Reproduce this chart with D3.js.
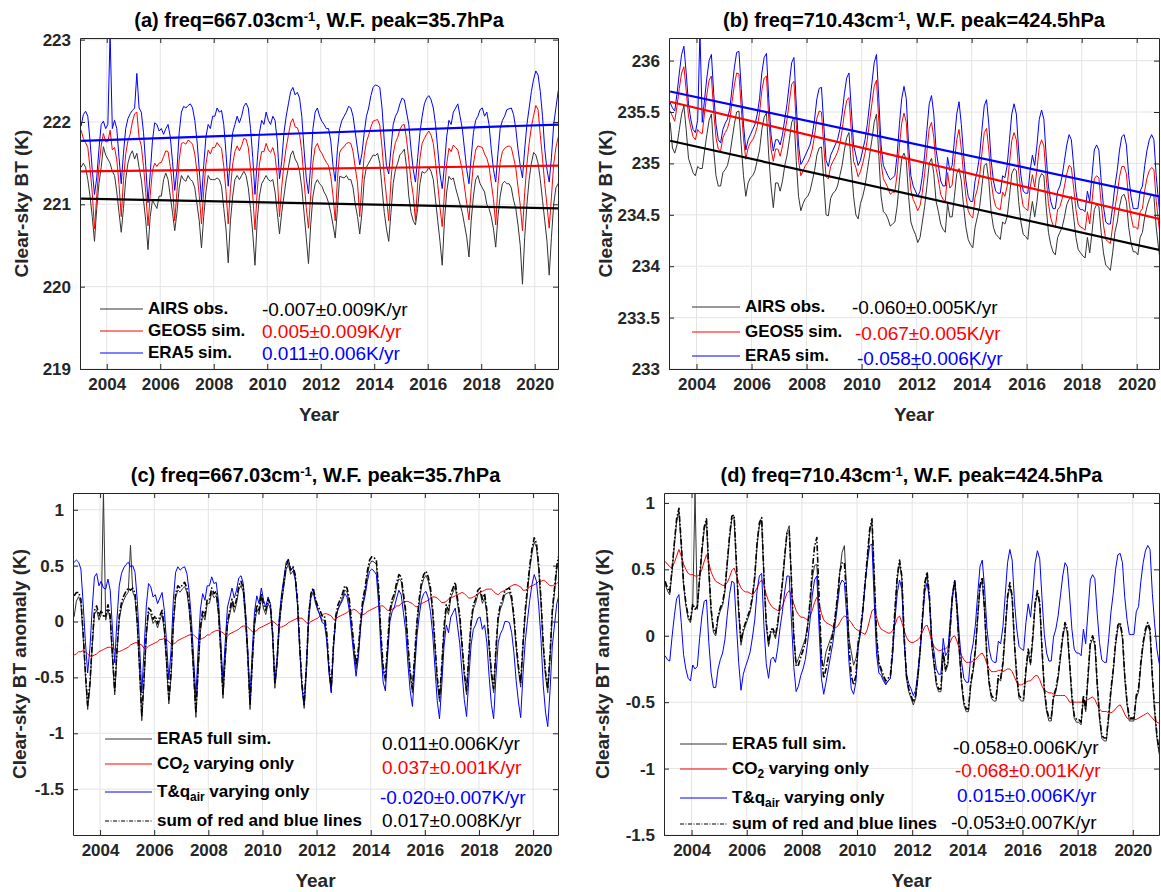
<!DOCTYPE html>
<html>
<head>
<meta charset="utf-8">
<title>Clear-sky BT</title>
<script src="https://cdnjs.cloudflare.com/ajax/libs/d3/7.8.5/d3.min.js"></script>
<style>
  body { margin: 0; background: #ffffff; }
  svg { font-family: "Liberation Sans", Arial, Helvetica, sans-serif; }
</style>
</head>
<body>
<svg id="chart" width="1161" height="892"></svg>
<script>
// Monthly values, Jan 2003 - Dec 2020, one row per year

var airs667 = [
  221.45,221.50,221.45,221.30,221.10,220.85,220.55,220.95,221.25,221.45,221.70,221.60,
  221.55,221.50,221.40,221.35,221.15,220.90,220.66,220.95,221.30,221.50,221.60,221.65,
  221.55,221.62,221.45,221.30,221.05,220.80,220.45,220.85,221.05,221.00,220.95,221.10,
  221.10,221.30,221.38,221.30,221.10,220.90,220.68,220.90,221.20,221.35,221.30,221.28,
  221.35,221.30,221.28,221.20,221.00,220.80,220.47,220.85,221.15,221.35,221.30,221.30,
  221.30,221.32,221.30,221.22,220.95,220.70,220.29,220.80,221.10,221.30,221.35,221.30,
  221.35,221.40,221.35,221.20,220.95,220.65,220.26,220.80,221.10,221.25,221.30,221.35,
  221.30,221.28,221.30,221.15,220.90,220.64,220.90,221.10,221.30,221.45,221.60,221.65,
  221.55,221.50,221.40,221.20,220.90,220.60,220.28,220.75,221.10,221.25,221.30,221.25,
  221.22,221.15,221.10,221.02,220.90,220.75,220.59,220.95,221.34,221.33,221.32,221.35,
  221.30,221.30,221.20,221.00,220.85,220.64,220.90,221.30,221.45,221.50,221.55,221.60,
  221.59,221.62,221.50,221.20,220.90,220.70,220.55,220.90,221.25,221.42,221.50,221.60,
  221.63,221.67,221.45,221.10,220.90,220.80,220.75,220.95,221.25,221.40,221.38,221.40,
  221.45,221.40,221.30,221.05,220.80,220.55,220.26,220.80,221.15,221.34,221.30,221.32,
  221.20,221.10,221.00,220.90,220.75,220.60,220.36,220.80,221.10,221.30,221.35,221.25,
  221.20,221.15,221.00,220.95,220.85,220.70,220.48,220.85,221.10,221.25,221.28,221.25,
  221.25,221.20,221.05,220.95,220.75,220.50,220.03,220.60,221.00,221.30,221.50,221.63,
  221.60,221.50,221.30,221.05,220.80,220.55,220.14,220.60,221.00,221.20,221.25,221.30
];

var geos667 = [
  221.90,221.80,221.75,221.69,221.44,221.14,220.70,221.10,221.46,221.71,221.86,221.76,
  221.76,221.90,221.66,221.69,221.54,221.24,220.85,221.29,221.61,221.77,221.85,222.00,
  222.10,222.12,221.81,221.71,221.46,221.14,220.74,221.11,221.41,221.50,221.46,221.50,
  221.51,221.58,221.65,221.64,221.46,221.21,220.80,221.16,221.54,221.74,221.75,221.73,
  221.78,221.76,221.73,221.61,221.39,221.11,220.76,221.16,221.49,221.66,221.61,221.69,
  221.69,221.75,221.71,221.68,221.46,221.16,220.76,221.19,221.49,221.64,221.71,221.65,
  221.71,221.80,221.79,221.69,221.44,221.11,220.69,221.16,221.49,221.64,221.64,221.74,
  221.66,221.63,221.69,221.59,221.34,220.85,221.21,221.49,221.69,221.84,221.99,222.04,
  221.94,221.93,221.85,221.64,221.29,220.96,220.71,221.11,221.51,221.69,221.74,221.66,
  221.62,221.56,221.51,221.47,221.34,221.11,220.80,221.31,221.63,221.68,221.70,221.74,
  221.75,221.74,221.64,221.44,221.26,220.85,221.26,221.59,221.76,221.84,221.94,222.01,
  222.02,222.03,221.96,221.69,221.34,221.09,220.80,221.29,221.61,221.75,221.81,221.91,
  221.96,221.97,221.79,221.54,221.29,221.11,220.80,221.26,221.56,221.74,221.80,221.85,
  221.89,221.84,221.74,221.51,221.24,220.96,220.73,221.14,221.49,221.68,221.64,221.72,
  221.69,221.66,221.54,221.41,221.21,221.01,220.81,221.19,221.49,221.66,221.71,221.70,
  221.69,221.61,221.56,221.46,221.26,221.06,220.75,221.24,221.51,221.64,221.68,221.70,
  221.71,221.69,221.57,221.44,221.21,220.99,220.68,221.14,221.49,221.74,221.94,222.08,
  222.20,222.15,221.84,221.56,221.24,220.99,220.71,221.09,221.49,221.69,221.81,221.89
];

var era667 = [
  221.95,222.09,222.13,222.07,221.77,221.42,221.12,221.32,221.67,221.97,222.01,221.92,
  221.97,223.07,221.92,222.02,221.92,221.57,221.25,221.62,221.92,222.04,222.10,222.14,
  222.17,222.59,222.17,222.12,221.87,221.47,221.02,221.37,221.77,221.99,221.97,221.89,
  221.92,221.85,221.92,221.97,221.82,221.52,221.17,221.42,221.87,222.12,222.19,222.17,
  222.20,222.22,222.17,222.02,221.77,221.42,221.05,221.47,221.82,221.97,221.92,222.07,
  222.07,222.17,222.12,222.14,221.97,221.62,221.22,221.57,221.87,221.97,222.07,221.99,
  222.07,222.19,222.23,222.17,221.92,221.57,221.12,221.52,221.87,222.02,221.97,222.12,
  222.02,221.97,222.07,222.02,221.77,221.31,221.52,221.87,222.07,222.22,222.37,222.42,
  222.33,222.36,222.29,222.07,221.67,221.32,221.13,221.47,221.92,222.12,222.17,222.07,
  222.01,221.97,221.92,221.92,221.77,221.47,221.28,221.67,221.92,222.02,222.07,222.12,
  222.19,222.17,222.07,221.87,221.67,221.48,221.62,221.87,222.07,222.17,222.32,222.42,
  222.45,222.44,222.42,222.17,221.77,221.47,221.37,221.67,221.97,222.07,222.12,222.22,
  222.29,222.27,222.12,221.97,221.67,221.42,221.27,221.57,221.87,222.07,222.22,222.29,
  222.32,222.27,222.17,221.97,221.67,221.37,221.19,221.47,221.82,222.02,221.97,222.12,
  222.17,222.22,222.07,221.92,221.67,221.42,221.25,221.57,221.87,222.02,222.07,222.15,
  222.17,222.07,222.12,221.97,221.67,221.42,221.27,221.62,221.92,222.02,222.07,222.15,
  222.16,222.17,222.09,221.92,221.67,221.47,221.32,221.67,221.97,222.17,222.37,222.52,
  222.62,222.57,222.37,222.07,221.67,221.42,221.27,221.57,221.97,222.17,222.37,222.47
];

var airs710 = [
  235.40,235.15,235.10,235.18,235.33,235.48,235.56,235.33,235.05,234.98,234.91,234.88,
  234.97,234.95,234.95,235.12,235.28,235.42,235.48,235.13,234.88,234.78,234.78,234.91,
  234.94,234.98,235.08,235.23,235.38,235.50,235.51,235.18,234.88,234.68,234.81,234.86,
  234.88,234.93,235.03,235.13,235.33,235.45,235.49,235.08,234.78,234.57,234.81,234.81,
  234.73,234.83,234.98,235.08,235.23,235.40,235.45,235.03,234.68,234.54,234.61,234.66,
  234.68,234.73,234.83,234.93,235.08,235.15,235.16,234.83,234.50,234.49,234.66,234.71,
  234.73,234.78,234.88,234.98,235.13,235.25,235.30,234.98,234.68,234.50,234.46,234.61,
  234.68,234.78,234.93,235.08,235.23,235.40,235.48,235.08,234.68,234.53,234.51,234.46,
  234.39,234.41,234.43,234.58,234.83,235.05,235.10,235.03,234.68,234.43,234.36,234.31,
  234.23,234.28,234.43,234.58,234.78,235.00,235.05,234.90,234.63,234.53,234.41,234.36,
  234.33,234.61,234.48,234.48,234.68,234.90,234.95,234.83,234.58,234.38,234.26,234.21,
  234.18,234.38,234.48,234.58,234.78,234.98,235.00,234.83,234.53,234.38,234.31,234.29,
  234.26,234.43,234.41,234.48,234.68,234.90,234.95,234.93,234.63,234.43,234.31,234.29,
  234.26,234.48,234.63,234.48,234.63,234.85,234.90,234.88,234.58,234.33,234.21,234.14,
  234.11,234.28,234.33,234.38,234.48,234.60,234.65,234.68,234.48,234.28,234.16,234.13,
  234.10,234.08,234.28,234.13,234.33,234.55,234.60,234.58,234.33,234.13,234.01,233.99,
  233.96,234.13,234.33,234.43,234.58,234.68,234.70,234.63,234.38,234.23,234.14,234.14,
  234.11,234.28,234.33,234.48,234.58,234.65,234.70,234.68,234.38,234.18,234.01,233.89
];

var geos710 = [
  235.51,235.46,235.41,235.56,235.73,235.88,235.94,235.71,235.46,235.35,235.26,235.23,
  235.33,235.30,235.29,235.49,235.67,235.81,235.85,235.50,235.25,235.14,235.12,235.25,
  235.30,235.34,235.42,235.60,235.76,235.88,235.87,235.54,235.24,235.04,235.15,235.20,
  235.23,235.28,235.36,235.49,235.71,235.83,235.85,235.44,235.14,235.02,235.14,235.14,
  235.07,235.17,235.30,235.43,235.60,235.77,235.80,235.38,235.03,234.88,234.93,234.98,
  235.01,235.06,235.14,235.27,235.44,235.51,235.50,235.17,234.87,234.85,234.97,235.02,
  235.06,235.11,235.19,235.32,235.49,235.61,235.64,235.32,235.02,234.96,234.87,234.92,
  235.00,235.10,235.23,235.41,235.58,235.75,235.81,235.41,235.01,234.85,234.81,234.76,
  234.70,234.72,234.72,234.90,235.17,235.39,235.49,235.40,235.00,234.74,234.65,234.60,
  234.54,234.59,234.72,234.90,235.12,235.34,235.40,235.25,234.95,234.84,234.70,234.65,
  234.63,234.91,234.76,234.79,235.01,235.23,235.33,235.14,234.89,234.68,234.54,234.49,
  234.47,234.67,234.75,234.88,235.10,235.30,235.34,235.13,234.83,234.67,234.58,234.56,
  234.55,234.72,234.68,234.78,235.00,235.22,235.30,235.23,234.93,234.72,234.58,234.56,
  234.54,234.76,234.89,234.77,234.94,235.16,235.23,235.17,234.87,234.61,234.47,234.40,
  234.38,234.55,234.58,234.66,234.78,234.90,234.98,234.96,234.76,234.55,234.41,234.38,
  234.37,234.35,234.53,234.41,234.63,234.85,234.88,234.86,234.61,234.40,234.26,234.24,
  234.22,234.39,234.57,234.70,234.87,234.97,234.97,234.90,234.65,234.49,234.38,234.38,
  234.36,234.53,234.56,234.74,234.86,234.93,234.96,234.94,234.64,234.43,234.24,234.12
];

var era710 = [
  235.59,235.54,235.51,235.68,235.88,236.06,236.14,235.88,235.58,235.43,235.33,235.30,
  235.42,236.28,235.40,235.62,235.83,236.00,236.06,235.68,235.38,235.23,235.20,235.33,
  235.39,235.43,235.53,235.73,235.93,236.08,236.09,235.73,235.38,235.13,235.23,235.28,
  235.33,235.38,235.48,235.63,235.88,236.03,236.07,235.63,235.28,235.12,235.23,235.23,
  235.18,235.28,235.43,235.58,235.78,235.98,236.03,235.58,235.18,234.99,235.03,235.08,
  235.13,235.18,235.28,235.43,235.63,235.73,235.74,235.38,235.03,234.97,235.08,235.13,
  235.18,235.23,235.33,235.48,235.68,235.83,235.88,235.53,235.18,235.08,234.98,235.03,
  235.13,235.23,235.38,235.58,235.78,235.98,236.06,235.63,235.18,234.98,234.93,234.88,
  234.84,234.86,234.88,235.08,235.38,235.63,235.75,235.63,235.18,234.88,234.78,234.73,
  234.68,234.73,234.88,235.08,235.33,235.58,235.66,235.48,235.13,234.98,234.83,234.78,
  234.78,235.06,234.93,234.98,235.23,235.48,235.60,235.38,235.08,234.83,234.68,234.63,
  234.63,234.83,234.93,235.08,235.33,235.56,235.62,235.38,235.03,234.83,234.73,234.71,
  234.71,234.88,234.86,234.98,235.23,235.48,235.58,235.48,235.13,234.88,234.73,234.71,
  234.71,234.93,235.08,234.98,235.18,235.43,235.52,235.43,235.08,234.78,234.63,234.56,
  234.56,234.73,234.78,234.88,235.03,235.18,235.28,235.23,234.98,234.73,234.58,234.55,
  234.55,234.53,234.73,234.63,234.88,235.13,235.18,235.13,234.83,234.58,234.43,234.41,
  234.41,234.58,234.78,234.93,235.13,235.26,235.28,235.18,234.88,234.68,234.56,234.56,
  234.56,234.73,234.78,234.98,235.13,235.23,235.28,235.23,234.88,234.63,234.43,234.31
];

var co2Only667 = [
  -0.30,-0.29,-0.27,-0.27,-0.26,-0.27,-0.29,-0.31,-0.31,-0.30,-0.29,-0.27,
  -0.26,-0.25,-0.24,-0.23,-0.23,-0.23,-0.25,-0.27,-0.27,-0.26,-0.25,-0.24,
  -0.23,-0.21,-0.20,-0.19,-0.19,-0.20,-0.21,-0.24,-0.24,-0.22,-0.21,-0.20,
  -0.19,-0.18,-0.16,-0.16,-0.15,-0.16,-0.18,-0.20,-0.20,-0.19,-0.17,-0.16,
  -0.15,-0.14,-0.13,-0.12,-0.12,-0.12,-0.14,-0.16,-0.16,-0.15,-0.14,-0.12,
  -0.12,-0.10,-0.09,-0.08,-0.08,-0.09,-0.10,-0.12,-0.13,-0.11,-0.10,-0.09,
  -0.08,-0.07,-0.05,-0.04,-0.04,-0.05,-0.07,-0.09,-0.09,-0.08,-0.06,-0.05,
  -0.04,-0.03,-0.02,-0.01,0.00,-0.01,-0.03,-0.05,-0.05,-0.04,-0.03,-0.01,
  0.00,0.01,0.02,0.03,0.03,0.03,0.01,-0.01,-0.02,0.00,0.01,0.02,
  0.03,0.05,0.06,0.07,0.07,0.06,0.05,0.02,0.02,0.04,0.05,0.06,
  0.07,0.08,0.10,0.10,0.11,0.10,0.08,0.06,0.06,0.07,0.09,0.10,
  0.11,0.12,0.13,0.14,0.14,0.14,0.12,0.10,0.10,0.11,0.12,0.14,
  0.14,0.16,0.17,0.18,0.18,0.17,0.16,0.14,0.13,0.15,0.16,0.17,
  0.18,0.19,0.21,0.22,0.22,0.21,0.19,0.17,0.17,0.18,0.20,0.21,
  0.22,0.23,0.24,0.25,0.26,0.25,0.23,0.21,0.21,0.22,0.23,0.25,
  0.26,0.27,0.28,0.29,0.29,0.29,0.27,0.25,0.24,0.26,0.27,0.28,
  0.29,0.31,0.32,0.33,0.33,0.32,0.31,0.28,0.28,0.29,0.31,0.32,
  0.33,0.34,0.36,0.36,0.37,0.36,0.34,0.32,0.32,0.33,0.34,0.36
];

var tqOnly667 = [
  0.53,0.55,0.53,0.47,0.16,-0.18,-0.46,-0.24,0.11,0.40,0.43,0.32,
  0.36,0.30,0.29,0.38,0.28,-0.07,-0.37,0.02,0.32,0.43,0.48,0.51,
  0.53,0.49,0.50,0.44,0.19,-0.20,-0.64,-0.26,0.14,0.34,0.31,0.22,
  0.24,0.16,0.21,0.26,0.10,-0.19,-0.52,-0.25,0.20,0.44,0.49,0.46,
  0.48,0.49,0.43,0.27,0.02,-0.33,-0.68,-0.24,0.11,0.25,0.19,0.32,
  0.32,0.40,0.34,0.35,0.18,-0.16,-0.55,-0.18,0.13,0.21,0.30,0.21,
  0.28,0.39,0.41,0.34,0.09,-0.25,-0.68,-0.26,0.09,0.23,0.16,0.30,
  0.19,0.13,0.22,0.16,-0.10,-0.55,-0.32,0.05,0.25,0.39,0.53,0.56,
  0.46,0.48,0.40,0.17,-0.23,-0.58,-0.75,-0.39,0.07,0.25,0.29,0.18,
  0.11,0.05,-0.01,-0.02,-0.17,-0.46,-0.64,-0.22,0.03,0.11,0.15,0.19,
  0.25,0.22,0.10,-0.10,-0.31,-0.49,-0.33,-0.06,0.14,0.23,0.36,0.45,
  0.47,0.45,0.42,0.16,-0.24,-0.54,-0.62,-0.30,0.00,0.09,0.13,0.21,
  0.28,0.24,0.08,-0.08,-0.38,-0.62,-0.76,-0.44,-0.13,0.05,0.19,0.25,
  0.27,0.21,0.09,-0.12,-0.42,-0.71,-0.87,-0.57,-0.22,-0.03,-0.10,0.04,
  0.08,0.12,-0.04,-0.20,-0.46,-0.70,-0.85,-0.51,-0.21,-0.07,-0.03,0.03,
  0.04,-0.07,-0.03,-0.19,-0.49,-0.74,-0.87,-0.50,-0.19,-0.11,-0.07,0.00,
  0.00,-0.01,-0.10,-0.28,-0.53,-0.72,-0.86,-0.48,-0.18,0.01,0.19,0.33,
  0.42,0.36,0.14,-0.16,-0.57,-0.81,-0.94,-0.62,-0.22,-0.03,0.16,0.24
];

var co2Only710 = [
  0.56,0.54,0.52,0.51,0.55,0.60,0.65,0.60,0.54,0.50,0.47,0.46,
  0.46,0.45,0.45,0.46,0.50,0.56,0.61,0.55,0.48,0.44,0.41,0.40,
  0.39,0.38,0.38,0.40,0.44,0.49,0.51,0.46,0.40,0.36,0.34,0.33,
  0.33,0.32,0.31,0.33,0.36,0.40,0.42,0.38,0.31,0.26,0.23,0.21,
  0.20,0.19,0.19,0.22,0.27,0.32,0.34,0.30,0.24,0.19,0.16,0.14,
  0.14,0.13,0.12,0.14,0.19,0.25,0.29,0.24,0.17,0.12,0.10,0.09,
  0.08,0.07,0.06,0.07,0.10,0.13,0.15,0.14,0.12,0.10,0.07,0.05,
  0.04,0.03,0.02,0.01,0.05,0.12,0.19,0.20,0.14,0.08,0.05,0.04,
  0.03,0.02,0.02,0.04,0.08,0.13,0.15,0.10,0.04,-0.01,-0.04,-0.05,
  -0.05,-0.04,-0.03,-0.01,0.03,0.07,0.08,0.03,-0.04,-0.08,-0.10,-0.11,
  -0.11,-0.10,-0.10,-0.08,-0.05,-0.01,0.00,-0.04,-0.10,-0.15,-0.18,-0.20,
  -0.20,-0.20,-0.19,-0.18,-0.16,-0.14,-0.13,-0.16,-0.21,-0.25,-0.27,-0.27,
  -0.27,-0.26,-0.26,-0.27,-0.26,-0.25,-0.25,-0.27,-0.31,-0.35,-0.37,-0.37,
  -0.36,-0.35,-0.34,-0.34,-0.32,-0.30,-0.30,-0.33,-0.38,-0.41,-0.42,-0.43,
  -0.43,-0.44,-0.45,-0.45,-0.45,-0.45,-0.45,-0.47,-0.50,-0.50,-0.50,-0.50,
  -0.50,-0.50,-0.50,-0.49,-0.48,-0.47,-0.46,-0.48,-0.52,-0.55,-0.57,-0.57,
  -0.57,-0.58,-0.58,-0.57,-0.55,-0.53,-0.52,-0.55,-0.59,-0.62,-0.63,-0.63,
  -0.63,-0.63,-0.62,-0.61,-0.60,-0.59,-0.58,-0.60,-0.62,-0.64,-0.65,-0.66
];

var tqOnly710 = [
  -0.15,-0.18,-0.19,-0.01,0.15,0.28,0.31,0.10,-0.14,-0.25,-0.32,-0.34,
  -0.22,-0.25,-0.23,-0.02,0.15,0.26,0.27,-0.05,-0.28,-0.39,-0.39,-0.25,
  -0.18,-0.13,-0.03,0.15,0.31,0.41,0.40,0.09,-0.20,-0.41,-0.29,-0.23,
  -0.18,-0.12,-0.01,0.12,0.34,0.45,0.47,0.07,-0.21,-0.32,-0.18,-0.16,
  -0.20,-0.09,0.06,0.18,0.33,0.45,0.45,0.10,-0.24,-0.42,-0.38,-0.30,
  -0.25,-0.18,-0.05,0.11,0.30,0.42,0.45,0.05,-0.32,-0.44,-0.35,-0.25,
  -0.15,-0.05,0.09,0.23,0.38,0.42,0.40,0.15,-0.20,-0.40,-0.44,-0.35,
  -0.09,0.02,0.18,0.39,0.55,0.68,0.69,0.25,-0.14,-0.28,-0.30,-0.34,
  -0.37,-0.34,-0.32,-0.14,0.12,0.32,0.42,0.35,-0.04,-0.29,-0.36,-0.40,
  -0.45,-0.41,-0.27,-0.09,0.12,0.33,0.40,0.27,-0.01,-0.12,-0.25,-0.29,
  -0.29,-0.02,-0.15,-0.12,0.10,0.31,0.42,0.24,0.00,-0.20,-0.32,-0.35,
  -0.35,-0.15,-0.06,0.08,0.31,0.52,0.57,0.36,0.06,-0.10,-0.18,-0.20,
  -0.20,-0.04,-0.06,0.07,0.31,0.55,0.65,0.57,0.26,0.05,-0.08,-0.10,
  -0.11,0.10,0.24,0.14,0.32,0.55,0.64,0.58,0.28,0.01,-0.13,-0.19,
  -0.19,-0.01,0.05,0.15,0.30,0.45,0.55,0.52,0.30,0.05,-0.10,-0.13,
  -0.13,-0.15,0.05,-0.06,0.18,0.42,0.46,0.43,0.17,-0.05,-0.18,-0.20,
  -0.20,-0.02,0.18,0.32,0.50,0.61,0.62,0.55,0.29,0.12,0.01,0.01,
  0.01,0.18,0.22,0.41,0.55,0.64,0.68,0.65,0.32,0.09,-0.10,-0.21
];

// Linear trend lines: value at first and last month
var airs667Trend = [221.07, 220.95];
var geos667Trend = [221.40, 221.47];
var era667Trend = [221.77, 221.97];
var airs710Trend = [235.22, 234.15];
var geos710Trend = [235.60, 234.45];
var era710Trend = [235.70, 234.67];

// Tick values
var yearTicks = [2004, 2006, 2008, 2010, 2012, 2014, 2016, 2018, 2020];
var ticksA = [219, 220, 221, 222, 223];
var ticksB = [233, 233.5, 234, 234.5, 235, 235.5, 236];
var ticksAnom = [-1.5, -1, -0.5, 0, 0.5, 1];

// Trend texts
var trendTextA = ['-0.007\u00b10.009K/yr', '0.005\u00b10.009K/yr', '0.011\u00b10.006K/yr'];
var trendTextB = ['-0.060\u00b10.005K/yr', '-0.067\u00b10.005K/yr', '-0.058\u00b10.006K/yr'];
var trendTextC = ['0.011\u00b10.006K/yr', '0.037\u00b10.001K/yr', '-0.020\u00b10.007K/yr', '0.017\u00b10.008K/yr'];
var trendTextD = ['-0.058\u00b10.006K/yr', '-0.068\u00b10.001K/yr', '0.015\u00b10.006K/yr', '-0.053\u00b10.007K/yr'];

var svg = d3.select('#chart');
var axisColor = '#262626';

// time of each month (mid-month)
var months = d3.range(airs667.length).map(function (i) { return 2003 + (i + 0.5) / 12; });
var tFirst = months[0], tLast = months[months.length - 1];

function anomaly(arr) {           // anomaly relative to the series mean
  var m = d3.mean(arr);
  return arr.map(function (v) { return v - m; });
}
function addSeries(a, b) {        // "sum of red and blue lines"
  return a.map(function (v, i) { return v + b[i]; });
}

// text with optional sub/superscript parts: [[text, 'sub'|'sup'|null], ...]
function richText(g, parts, x, y, size, weight, color, anchor) {
  var t = g.append('text').attr('x', x).attr('y', y)
    .style('font-size', size + 'px').style('font-weight', weight)
    .attr('fill', color).attr('text-anchor', anchor || 'start');
  parts.forEach(function (p) {
    var s = t.append('tspan').text(p[0]);
    if (p[1] === 'sub') s.attr('baseline-shift', '-30%').style('font-size', (size * 0.7) + 'px');
    if (p[1] === 'sup') s.attr('baseline-shift', '45%').style('font-size', (size * 0.65) + 'px');
  });
  return t;
}

function drawPanel(p) {
  var x = d3.scaleLinear().domain(p.xDomain).range([p.left, p.right]);
  var y = d3.scaleLinear().domain(p.yDomain).range([p.bottom, p.top]);
  var g = svg.append('g');

  g.append('clipPath').attr('id', 'clip-' + p.id).append('rect')
    .attr('x', p.left).attr('y', p.top)
    .attr('width', p.right - p.left).attr('height', p.bottom - p.top);

  // grid
  g.append('g').selectAll('line').data(yearTicks).join('line')
    .attr('x1', function (d) { return x(d); }).attr('x2', function (d) { return x(d); })
    .attr('y1', p.top).attr('y2', p.bottom)
    .attr('stroke', '#e4e4e4').attr('stroke-width', 1);
  g.append('g').selectAll('line').data(p.yTicks).join('line')
    .attr('x1', p.left).attr('x2', p.right)
    .attr('y1', function (d) { return y(d); }).attr('y2', function (d) { return y(d); })
    .attr('stroke', '#e4e4e4').attr('stroke-width', 1);

  // data lines
  var line = d3.line()
    .x(function (d, i) { return x(months[i]); })
    .y(function (d) { return y(d); });
  var plot = g.append('g').attr('clip-path', 'url(#clip-' + p.id + ')');
  p.series.forEach(function (s) {
    plot.append('path').datum(s.values)
      .attr('d', line).attr('fill', 'none')
      .attr('stroke', s.color).attr('stroke-width', s.width || 1)
      .attr('stroke-dasharray', s.dash || null)
      .attr('stroke-linejoin', 'round');
  });
  (p.trends || []).forEach(function (tr) {
    plot.append('line')
      .attr('x1', x(tFirst)).attr('y1', y(tr.values[0]))
      .attr('x2', x(tLast)).attr('y2', y(tr.values[1]))
      .attr('stroke', tr.color).attr('stroke-width', 2.2);
  });

  // box axes with inward ticks
  function styleAxis(sel) {
    sel.select('.domain').attr('stroke', axisColor);
    sel.selectAll('.tick line').attr('stroke', axisColor);
    sel.selectAll('.tick text').attr('fill', axisColor)
      .style('font-size', '17px').style('font-weight', 'bold')
      .style('font-family', '"Liberation Sans", Arial, sans-serif');
  }
  g.append('g').attr('transform', 'translate(0,' + p.bottom + ')')
    .call(d3.axisBottom(x).tickValues(yearTicks).tickFormat(d3.format('d'))
      .tickSizeInner(-5).tickSizeOuter(0).tickPadding(9))
    .call(styleAxis);
  g.append('g').attr('transform', 'translate(0,' + p.top + ')')
    .call(d3.axisTop(x).tickValues(yearTicks).tickFormat('')
      .tickSizeInner(-5).tickSizeOuter(0))
    .call(styleAxis);
  g.append('g').attr('transform', 'translate(' + p.left + ',0)')
    .call(d3.axisLeft(y).tickValues(p.yTicks).tickFormat(function (d) { return String(d); })
      .tickSizeInner(-5).tickSizeOuter(0).tickPadding(9))
    .call(styleAxis);
  g.append('g').attr('transform', 'translate(' + p.right + ',0)')
    .call(d3.axisRight(y).tickValues(p.yTicks).tickFormat('')
      .tickSizeInner(-5).tickSizeOuter(0))
    .call(styleAxis);

  // title and axis labels
  var cx = (p.left + p.right) / 2;
  richText(g, p.title, cx, p.top - 11, 20, 'bold', '#000', 'middle');
  g.append('text').attr('x', cx).attr('y', p.bottom + 52)
    .attr('text-anchor', 'middle').style('font-size', '19px').style('font-weight', 'bold')
    .attr('fill', axisColor).text('Year');
  g.append('text')
    .attr('transform', 'translate(' + p.yLabelX + ',' + ((p.top + p.bottom) / 2) + ') rotate(-90)')
    .attr('text-anchor', 'middle').style('font-size', '19px').style('font-weight', 'bold')
    .attr('fill', axisColor).text(p.yLabel);

  // legend
  p.legend.forEach(function (item, i) {
    var ly = p.legendY[i];
    g.append('line')
      .attr('x1', p.legendX[0]).attr('x2', p.legendX[1])
      .attr('y1', ly - 5).attr('y2', ly - 5)
      .attr('stroke', item.color).attr('stroke-width', 1)
      .attr('stroke-dasharray', item.dash || null);
    richText(g, item.label, p.legendX[1] + 5, ly, 17, 'bold', '#000');
    richText(g, [[p.trendText[i], null]], p.trendX[i], p.trendY[i], 19, 'normal', item.textColor);
  });
}

// (a) 667.03 cm-1, absolute BT
drawPanel({
  id: 'a', left: 80, right: 558, top: 38, bottom: 369,
  xDomain: [2003, 2020.87], yDomain: [219, 223.02], yTicks: ticksA,
  title: [['(a) freq=667.03cm', null], ['-1', 'sup'], [', W.F. peak=35.7hPa', null]],
  yLabel: 'Clear-sky BT (K)', yLabelX: 28,
  series: [
    { values: airs667, color: '#333333' },
    { values: geos667, color: '#ff0000' },
    { values: era667, color: '#0000ff' }
  ],
  trends: [
    { values: airs667Trend, color: '#000000' },
    { values: geos667Trend, color: '#ff0000' },
    { values: era667Trend, color: '#0000ff' }
  ],
  legend: [
    { label: [['AIRS obs.', null]], color: '#333333', textColor: '#000000' },
    { label: [['GEOS5 sim.', null]], color: '#ff0000', textColor: '#ff0000' },
    { label: [['ERA5 sim.', null]], color: '#0000ff', textColor: '#0000ff' }
  ],
  legendX: [100, 143], legendY: [314, 336, 358],
  trendText: trendTextA, trendX: [262, 262, 262], trendY: [316, 338, 360]
});

// (b) 710.43 cm-1, absolute BT
drawPanel({
  id: 'b', left: 669, right: 1159, top: 38, bottom: 369,
  xDomain: [2003, 2020.81], yDomain: [233, 236.22], yTicks: ticksB,
  title: [['(b) freq=710.43cm', null], ['-1', 'sup'], [', W.F. peak=424.5hPa', null]],
  yLabel: 'Clear-sky BT (K)', yLabelX: 612,
  series: [
    { values: airs710, color: '#333333' },
    { values: geos710, color: '#ff0000' },
    { values: era710, color: '#0000ff' }
  ],
  trends: [
    { values: airs710Trend, color: '#000000' },
    { values: geos710Trend, color: '#ff0000' },
    { values: era710Trend, color: '#0000ff' }
  ],
  legend: [
    { label: [['AIRS obs.', null]], color: '#333333', textColor: '#000000' },
    { label: [['GEOS5 sim.', null]], color: '#ff0000', textColor: '#ff0000' },
    { label: [['ERA5 sim.', null]], color: '#0000ff', textColor: '#0000ff' }
  ],
  legendX: [692, 740], legendY: [312, 337, 361],
  trendText: trendTextB, trendX: [852, 855, 857], trendY: [314, 340, 365]
});

// (c) 667.03 cm-1, anomalies
drawPanel({
  id: 'c', left: 73, right: 558, top: 493, bottom: 835,
  xDomain: [2003, 2020.92], yDomain: [-1.91, 1.15], yTicks: ticksAnom,
  title: [['(c) freq=667.03cm', null], ['-1', 'sup'], [', W.F. peak=35.7hPa', null]],
  yLabel: 'Clear-sky BT anomaly (K)', yLabelX: 26,
  series: [
    { values: anomaly(era667), color: '#333333' },
    { values: co2Only667, color: '#ff0000' },
    { values: tqOnly667, color: '#0000ff' },
    { values: addSeries(co2Only667, tqOnly667), color: '#000000', width: 1.6, dash: '6,2,1.5,2' }
  ],
  legend: [
    { label: [['ERA5 full sim.', null]], color: '#333333', textColor: '#000000' },
    { label: [['CO', null], ['2', 'sub'], [' varying only', null]], color: '#ff0000', textColor: '#ff0000' },
    { label: [['T&q', null], ['air', 'sub'], [' varying only', null]], color: '#0000ff', textColor: '#0000ff' },
    { label: [['sum of red and blue lines', null]], color: '#000000', dash: '4,1.5,1,1.5', textColor: '#000000' }
  ],
  legendX: [105, 152], legendY: [744, 769, 797, 826],
  trendText: trendTextC, trendX: [382, 382, 380, 382], trendY: [750, 774, 804, 827]
});

// (d) 710.43 cm-1, anomalies
drawPanel({
  id: 'd', left: 664, right: 1159, top: 493, bottom: 835,
  xDomain: [2003, 2020.95], yDomain: [-1.5, 1.075], yTicks: ticksAnom,
  title: [['(d) freq=710.43cm', null], ['-1', 'sup'], [', W.F. peak=424.5hPa', null]],
  yLabel: 'Clear-sky BT anomaly (K)', yLabelX: 609,
  series: [
    { values: anomaly(era710), color: '#333333' },
    { values: co2Only710, color: '#ff0000' },
    { values: tqOnly710, color: '#0000ff' },
    { values: addSeries(co2Only710, tqOnly710), color: '#000000', width: 1.6, dash: '6,2,1.5,2' }
  ],
  legend: [
    { label: [['ERA5 full sim.', null]], color: '#333333', textColor: '#000000' },
    { label: [['CO', null], ['2', 'sub'], [' varying only', null]], color: '#ff0000', textColor: '#ff0000' },
    { label: [['T&q', null], ['air', 'sub'], [' varying only', null]], color: '#0000ff', textColor: '#0000ff' },
    { label: [['sum of red and blue lines', null]], color: '#000000', dash: '4,1.5,1,1.5', textColor: '#000000' }
  ],
  legendX: [680, 727], legendY: [749, 774, 803, 829],
  trendText: trendTextD, trendX: [953, 955, 957, 951], trendY: [754, 777, 802, 829]
});
</script>
</body>
</html>
